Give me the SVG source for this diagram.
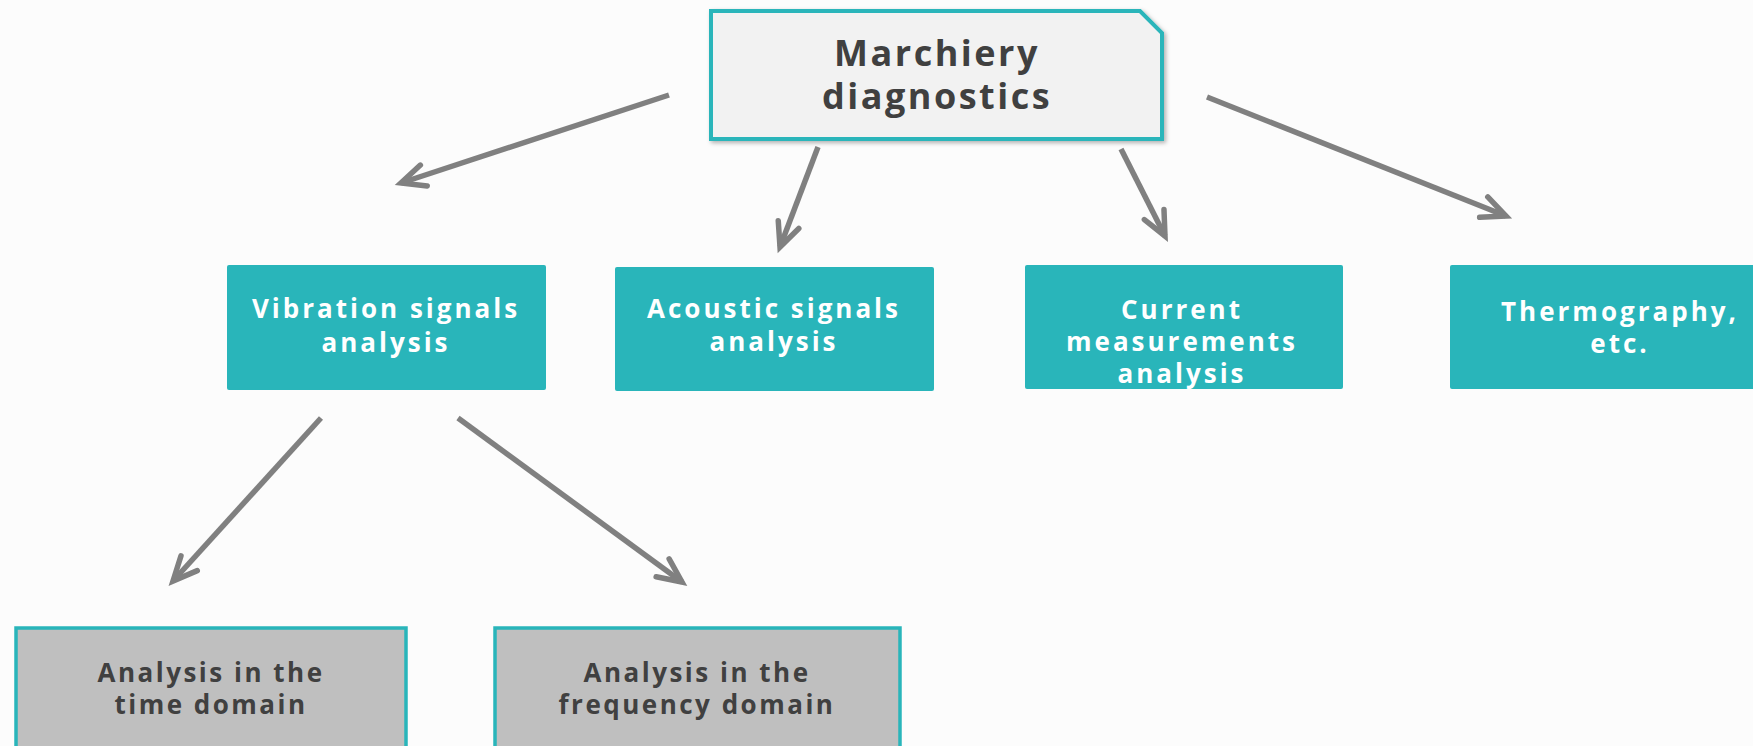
<svg xmlns="http://www.w3.org/2000/svg" width="1753" height="746" viewBox="0 0 1753 746">
<defs>
<style>
.teal{fill:#29b5ba;}
.tt{font-family:"Open Sans","Liberation Sans",sans-serif;font-weight:700;font-size:26px;letter-spacing:3px;fill:#ffffff;text-anchor:middle;}
.gt{font-family:"Open Sans","Liberation Sans",sans-serif;font-weight:700;font-size:26px;letter-spacing:2.5px;fill:#404040;text-anchor:middle;}
.title{font-family:"Open Sans","Liberation Sans",sans-serif;font-weight:700;font-size:36px;letter-spacing:2.5px;fill:#404040;text-anchor:middle;}
.gray{fill:#bfbfbf;stroke:#29b5ba;stroke-width:3.5;}
.conn{fill:none;stroke:#808080;stroke-width:5.5;stroke-linecap:butt;}
</style>
<marker id="arr" markerUnits="userSpaceOnUse" orient="auto" refX="0" refY="0" markerWidth="40" markerHeight="40" viewBox="-30 -20 40 40" overflow="visible">
<path d="M-24,-11 L0,0 L-24,11" fill="none" stroke="#808080" stroke-width="5.5" stroke-linecap="round" stroke-linejoin="miter"/>
</marker>
<filter id="sh" x="-5%" y="-5%" width="115%" height="120%">
<feDropShadow dx="2" dy="2" stdDeviation="2" flood-color="#000" flood-opacity="0.3"/>
</filter>
</defs>
<rect width="1753" height="746" fill="#fcfcfc"/>
<g id="connectors">
<line class="conn" x1="669" y1="95" x2="401" y2="183" marker-end="url(#arr)"/>
<line class="conn" x1="818" y1="147" x2="780" y2="247" marker-end="url(#arr)"/>
<line class="conn" x1="1121" y1="149" x2="1165" y2="236" marker-end="url(#arr)"/>
<line class="conn" x1="1207" y1="97" x2="1506" y2="216" marker-end="url(#arr)"/>
<line class="conn" x1="321" y1="418" x2="173" y2="581" marker-end="url(#arr)"/>
<line class="conn" x1="458" y1="418" x2="682" y2="582" marker-end="url(#arr)"/>
</g>
<g id="root">
<path d="M711,11 H1140 L1162,33 V139 H711 Z" fill="#f2f2f2" stroke="#29b5ba" stroke-width="4" filter="url(#sh)"/>
<text class="title" x="937" y="66">Marchiery</text>
<text class="title" x="937" y="109">diagnostics</text>
</g>
<g id="vibration">
<rect class="teal" x="227" y="265" width="319" height="125" rx="2"/>
<text class="tt" x="386" y="318">Vibration signals</text>
<text class="tt" x="386" y="352">analysis</text>
</g>
<g id="acoustic">
<rect class="teal" x="615" y="267" width="319" height="124" rx="2"/>
<text class="tt" x="774" y="318">Acoustic signals</text>
<text class="tt" x="774" y="351">analysis</text>
</g>
<g id="current">
<rect class="teal" x="1025" y="265" width="318" height="124" rx="2"/>
<text class="tt" x="1182" y="319">Current</text>
<text class="tt" x="1182" y="351">measurements</text>
<text class="tt" x="1182" y="383">analysis</text>
</g>
<g id="thermography">
<rect class="teal" x="1450" y="265" width="330" height="124" rx="2"/>
<text class="tt" x="1620" y="321">Thermography,</text>
<text class="tt" x="1620" y="353">etc.</text>
</g>
<g id="time">
<rect class="gray" x="16" y="628" width="390" height="140"/>
<text class="gt" x="211" y="682">Analysis in the</text>
<text class="gt" x="211" y="714">time domain</text>
</g>
<g id="frequency">
<rect class="gray" x="495" y="628" width="405" height="140"/>
<text class="gt" x="697" y="682">Analysis in the</text>
<text class="gt" x="697" y="714">frequency domain</text>
</g>
</svg>
